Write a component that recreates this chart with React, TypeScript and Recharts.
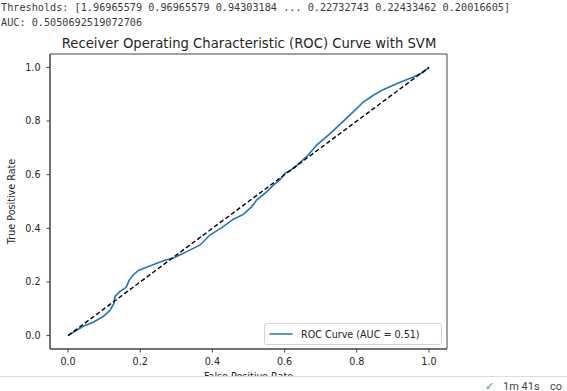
import React from 'react';
import {
  LineChart,
  Line,
  XAxis,
  YAxis,
  ReferenceArea
} from 'recharts';

// ROC curve points
const fpr = [0, 0.024, 0.042, 0.07, 0.098, 0.116, 0.127, 0.13, 0.144, 0.161, 0.17, 0.181, 0.195, 0.218, 0.246, 0.273, 0.292, 0.329, 0.366, 0.393, 0.43, 0.458, 0.486, 0.509, 0.523, 0.55, 0.569, 0.587, 0.601, 0.624, 0.661, 0.689, 0.726, 0.758, 0.79, 0.818, 0.846, 0.873, 0.92, 0.957, 0.984, 1.0];
const tpr = [0, 0.02, 0.035, 0.05, 0.072, 0.094, 0.12, 0.146, 0.165, 0.18, 0.208, 0.227, 0.243, 0.255, 0.27, 0.283, 0.289, 0.313, 0.338, 0.375, 0.406, 0.434, 0.452, 0.481, 0.506, 0.536, 0.561, 0.58, 0.605, 0.623, 0.667, 0.71, 0.753, 0.793, 0.834, 0.871, 0.896, 0.917, 0.945, 0.964, 0.982, 1.0];
const diagX = [0, 1];
const diagY = [0, 1];
const ticks = [0, 0.2, 0.4, 0.6, 0.8, 1.0];

const thresholdsText = 'Thresholds: [1.96965579 0.96965579 0.94303184 ... 0.22732743 0.22433462 0.20016605]';
const aucText = 'AUC: 0.5050692519072706';
const legendLabel = 'ROC Curve (AUC = 0.51)';

const rocData = fpr.map((x, i) => ({ fpr: x, tpr: tpr[i] }));
const diagData = diagX.map((x, i) => ({ fpr: x, tpr: diagY[i] }));

const font = '"DejaVu Sans", sans-serif';
const tickStyle = { fontSize: 9.6, fill: '#262626', fontFamily: font };

export default function App() {
  return (
    <div style={{ position: 'fixed', left: 0, top: 0, width: 567, height: 391, background: '#fff', overflow: 'hidden' }}>
      <div style={{ position: 'absolute', left: 1, top: 0, fontFamily: '"DejaVu Sans Mono", monospace', fontSize: 10.2, lineHeight: '15px', color: '#3b3b3b', whiteSpace: 'pre' }}>
        <div>{thresholdsText}</div>
        <div>{aucText}</div>
      </div>
      <div style={{ position: 'absolute', left: 0, width: 498, textAlign: 'center', top: 35.5, fontFamily: font, fontSize: 13.2, lineHeight: '16px', color: '#262626', whiteSpace: 'nowrap' }}>
        Receiver Operating Characteristic (ROC) Curve with SVM
      </div>
      <div style={{ position: 'absolute', left: 0, top: 0, width: 567, height: 376, overflow: 'hidden' }}>
        <LineChart width={567} height={391} margin={{ top: 54, right: 120, left: 0, bottom: 0 }}>
          <XAxis
            dataKey="fpr"
            type="number"
            domain={[-0.05, 1.05]}
            ticks={ticks}
            tickFormatter={(v: number) => v.toFixed(1)}
            allowDuplicatedCategory={false}
            height={42}
            tickSize={3.5}
            tickMargin={6}
            tick={tickStyle}
            stroke="#444"
            label={{ value: 'False Positive Rate', position: 'insideTop', offset: 24, style: { fontSize: 9.6, fill: '#262626', fontFamily: font } }}
          />
          <YAxis
            dataKey="tpr"
            type="number"
            domain={[-0.05, 1.05]}
            ticks={ticks}
            tickFormatter={(v: number) => v.toFixed(1)}
            width={50}
            tickSize={3.5}
            tickMargin={6}
            tick={tickStyle}
            stroke="#444"
            label={{ value: 'True Positive Rate', angle: -90, position: 'insideLeft', offset: 12, style: { textAnchor: 'middle', fontSize: 9.6, fill: '#262626', fontFamily: font } }}
          />
          <ReferenceArea x1={-0.05} x2={1.05} y1={-0.05} y2={1.05} fill="none" stroke="#444" strokeWidth={1} />
          <Line data={rocData} dataKey="tpr" type="linear" stroke="#1f77b4" strokeWidth={1.6} dot={false} isAnimationActive={false} name={legendLabel} />
          <Line data={diagData} dataKey="tpr" type="linear" stroke="#000" strokeWidth={1.4} strokeDasharray="4.5 2.5" dot={false} isAnimationActive={false} />
        </LineChart>
      </div>
      <div style={{
        position: 'absolute', left: 264, top: 323, boxSizing: 'border-box', width: 178, height: 22,
        border: '1px solid #d4d4d4', borderRadius: 3, background: 'rgba(255,255,255,0.85)', display: 'flex', alignItems: 'center'
      }}>
        <svg width={29} height={18} style={{ flex: 'none' }}>
          <line x1={4.5} x2={27.5} y1={9} y2={9} stroke="#1f77b4" strokeWidth={1.5} />
        </svg>
        <span style={{ fontFamily: font, fontSize: 9.6, color: '#262626', marginLeft: 7, whiteSpace: 'nowrap' }}>{legendLabel}</span>
      </div>
      <div style={{ position: 'absolute', left: 0, top: 376, width: 567, height: 1, background: '#dedede' }} />
      <div style={{ position: 'absolute', left: 485, top: 381, height: 12, fontFamily: 'Roboto, sans-serif', fontSize: 11, lineHeight: '12px', color: '#444', whiteSpace: 'pre' }}>
        <span style={{ color: '#3a9a8a' }}>✓</span>
        <span style={{ position: 'absolute', left: 18 }}>1m 41s</span>
        <span style={{ position: 'absolute', left: 65 }}>co</span>
      </div>
    </div>
  );
}
